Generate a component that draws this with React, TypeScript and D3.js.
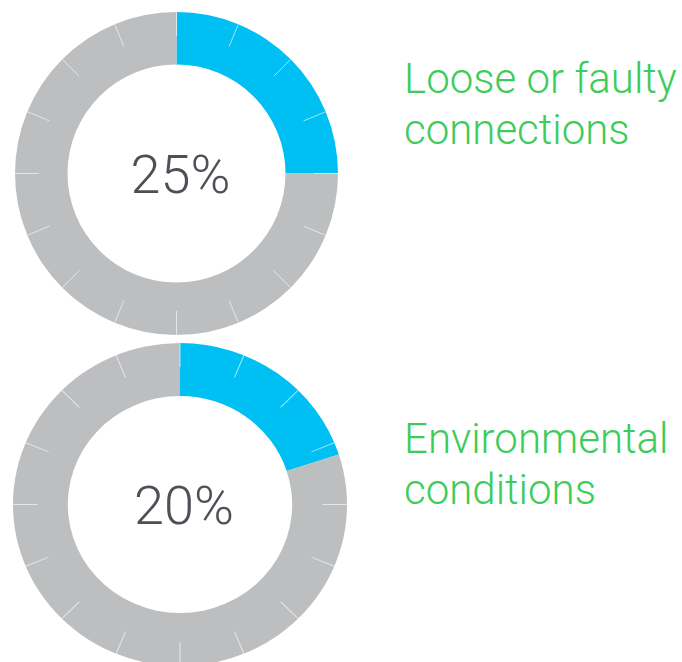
import * as d3 from "d3"
import { useEffect, useRef } from "react"

const percents = [25, 20]
const labels = [
  ["Loose or faulty", "connections"],
  ["Environmental", "conditions"],
]
const TICK_COUNT = 16

const WIDTH = 682
const HEIGHT = 662

const App = () => {
  const svgRef = useRef<SVGSVGElement>(null)

  useEffect(() => {
    if (!svgRef.current) return
    const svg = d3.select(svgRef.current)
    svg.selectAll("*").remove()

    // donut placement, tuned to the picture
    const layouts = [
      { cx: 176.5, cy: 173.5, sx: 1, outer: 161.5, inner: 109, labelY: 93 },
      { cx: 180, cy: 504.5, sx: 1.034, outer: 161.5, inner: 108.5, labelY: 453 },
    ]

    const pie = d3
      .pie<{ key: string; value: number }>()
      .sort(null)
      .value((d) => d.value)

    percents.forEach((pct, i) => {
      const L = layouts[i]
      const g = svg
        .append("g")
        .attr("transform", `translate(${L.cx}, ${L.cy}) scale(${L.sx}, 1)`)

      const arc = d3
        .arc<d3.PieArcDatum<{ key: string; value: number }>>()
        .innerRadius(L.inner)
        .outerRadius(L.outer)

      g.selectAll("path")
        .data(
          pie([
            { key: "hit", value: pct },
            { key: "rest", value: 100 - pct },
          ]),
        )
        .join("path")
        .attr("d", arc)
        .attr("fill", (d) => (d.data.key === "hit" ? "#00bff3" : "#bdbec0"))

      const angle = d3
        .scaleLinear()
        .domain([0, TICK_COUNT])
        .range([0, 2 * Math.PI])

      g.selectAll("line.tick")
        .data(d3.range(TICK_COUNT))
        .join("line")
        .attr("class", "tick")
        .attr("x1", (d) => Math.sin(angle(d)) * L.outer)
        .attr("y1", (d) => -Math.cos(angle(d)) * L.outer)
        .attr("x2", (d) => Math.sin(angle(d)) * (L.outer - 24))
        .attr("y2", (d) => -Math.cos(angle(d)) * (L.outer - 24))
        .attr("stroke", "#ffffff")
        .attr("stroke-opacity", 0.6)
        .attr("stroke-width", 1)

      svg
        .append("text")
        .attr("x", L.cx + 4)
        .attr("y", L.cy + 19)
        .attr("text-anchor", "middle")
        .attr("font-family", "Roboto, sans-serif")
        .attr("font-weight", 300)
        .attr("font-size", "54px")
        .attr("fill", "#4d5157")
        .text(`${pct}%`)

      svg
        .append("text")
        .attr("font-family", "Roboto, sans-serif")
        .attr("font-weight", 300)
        .attr("font-size", "42px")
        .attr("fill", "#3dcc5a")
        .selectAll("tspan")
        .data(labels[i])
        .join("tspan")
        .attr("x", 404)
        .attr("y", (_, j) => L.labelY + j * 51)
        .text((d) => d)
    })
  }, [])

  return (
    <svg
      ref={svgRef}
      width={WIDTH}
      height={HEIGHT}
      style={{ position: "absolute", left: 0, top: 0, display: "block" }}
    />
  )
}

export default App
